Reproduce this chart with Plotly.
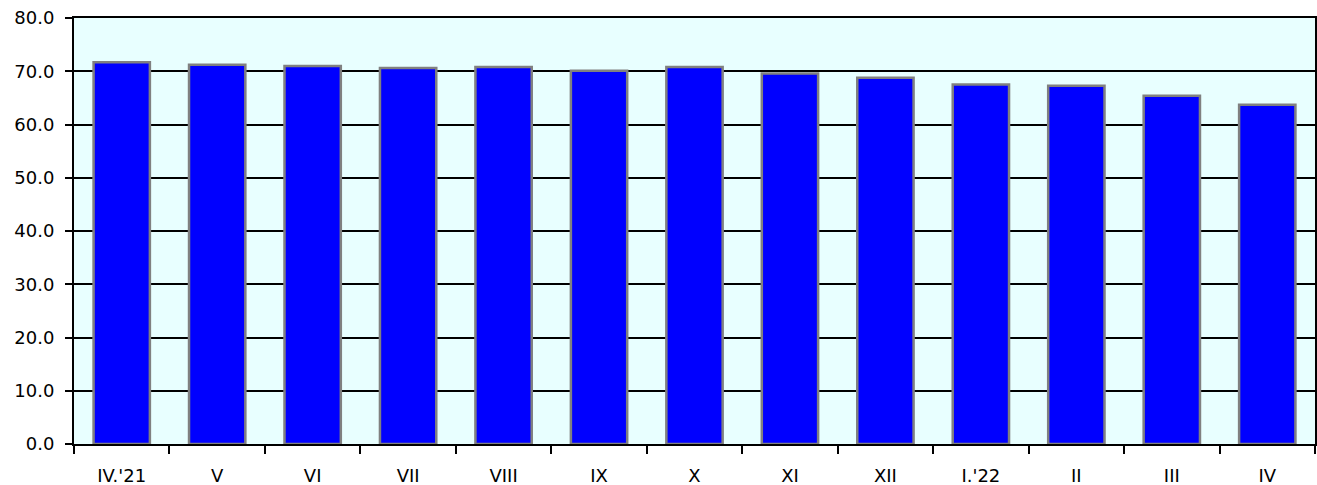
import plotly.graph_objects as go

categories = ["IV.'21", "V", "VI", "VII", "VIII", "IX", "X", "XI", "XII", "I.'22", "II", "III", "IV"]
values = [71.7, 71.2, 71.0, 70.6, 70.8, 70.1, 70.8, 69.6, 68.8, 67.5, 67.3, 65.4, 63.7]
y_ticks = [0, 10, 20, 30, 40, 50, 60, 70, 80]

fig = go.Figure(
    go.Bar(
        x=categories,
        y=values,
        marker=dict(color="#0000FF", line=dict(color="#808080", width=2.5)),
        width=0.59,
    )
)

font = dict(family="DejaVu Sans, Open Sans, sans-serif", size=18, color="#000000")

fig.update_layout(
    width=1317,
    height=485,
    autosize=False,
    margin=dict(l=74, r=2, t=18, b=41, pad=0),
    paper_bgcolor="#FFFFFF",
    plot_bgcolor="#E8FFFF",
    font=font,
    showlegend=False,
)
fig.update_xaxes(
    type="category",
    automargin=False,
    tickson="boundaries",
    ticks="outside",
    ticklen=8,
    tickwidth=2,
    tickcolor="#000000",
    showgrid=False,
    showline=True,
    linecolor="#000000",
    linewidth=2,
    mirror=True,
    tickfont=font,
    ticklabelstandoff=14,
)
fig.update_yaxes(
    range=[0, 80],
    automargin=False,
    tickvals=y_ticks,
    tickformat=".1f",
    ticks="outside",
    ticklen=7,
    tickwidth=2,
    tickcolor="#000000",
    showgrid=True,
    gridcolor="#000000",
    gridwidth=2,
    showline=True,
    linecolor="#000000",
    linewidth=2,
    mirror=True,
    zeroline=False,
    tickfont=font,
    ticklabelstandoff=7,
)

post = (
    "document.documentElement.style.margin='0';"
    "document.documentElement.style.overflow='hidden';"
    "document.body.style.margin='0';"
    "document.body.style.padding='0';"
    "document.body.style.overflow='hidden';"
    "var gd=document.getElementById('{plot_id}');"
    "gd.style.width='1317px';gd.style.height='485px';"
    "Plotly.relayout(gd,'width',1317);"
)

fig.write_html("out.html", post_script=post, config=dict(responsive=False, displayModeBar=False))
